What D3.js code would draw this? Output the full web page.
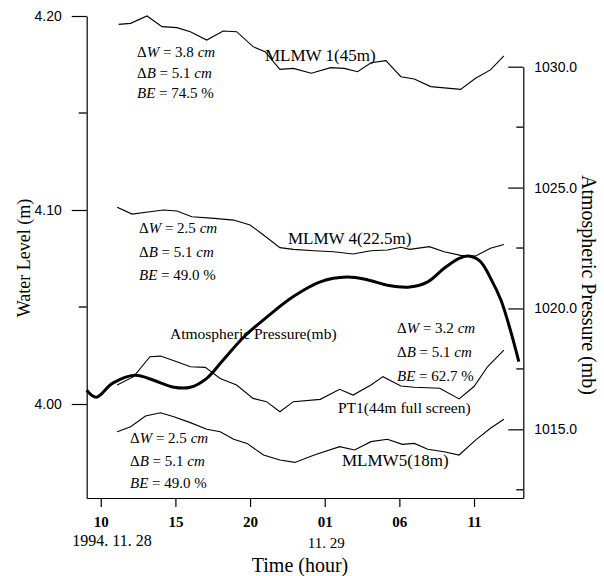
<!DOCTYPE html>
<html>
<head>
<meta charset="utf-8">
<script src="https://d3js.org/d3.v7.min.js"></script>
<style>
  body { margin: 0; background: #fff; }
  svg { display: block; }
  .serif { font-family: "Liberation Serif", "Times New Roman", serif; }
  .sans { font-family: "Liberation Sans", Arial, sans-serif; }
</style>
</head>
<body>
<div id="chart"></div>
<script>
  const width = 604, height = 576;

  // hours counted from 1994.11.28 00:00, levels in m, pressure in mb
  const mlmw1Hours = [11.2, 12.0, 13.1, 14.1, 15.1, 16.0, 17.1, 18.2, 19.1, 20.2, 21.0, 22.0, 22.9, 24.1, 25.4, 26.3, 27.2, 28.1, 29.1, 30.1, 31.0, 32.1, 34.1, 35.1, 36.1, 37.0];
  const mlmw1Level = [4.1957, 4.1962, 4.2000, 4.1945, 4.1940, 4.1919, 4.1876, 4.1923, 4.1919, 4.1842, 4.1816, 4.1725, 4.1730, 4.1705, 4.1734, 4.1730, 4.1713, 4.1759, 4.1770, 4.1687, 4.1675, 4.1636, 4.1622, 4.1679, 4.1722, 4.1794];

  const mlmw4Hours = [11.1, 12.1, 13.3, 14.2, 15.1, 16.1, 17.6, 18.9, 20.0, 20.9, 22.0, 22.9, 24.3, 25.6, 26.9, 28.1, 29.2, 30.1, 30.7, 32.0, 33.0, 34.1, 35.1, 36.1, 37.0];
  const mlmw4Level = [4.1014, 4.0979, 4.0991, 4.1000, 4.0995, 4.0965, 4.0957, 4.0948, 4.0923, 4.0871, 4.0806, 4.0797, 4.0790, 4.0785, 4.0773, 4.0790, 4.0794, 4.0808, 4.0797, 4.0811, 4.0785, 4.0766, 4.0763, 4.0803, 4.0822];

  const pt1Hours = [11.1, 12.2, 13.3, 14.0, 15.1, 16.0, 17.0, 18.0, 19.1, 20.2, 21.1, 22.0, 22.9, 24.7, 26.0, 26.9, 28.1, 28.9, 30.1, 31.0, 32.7, 34.0, 35.0, 35.9, 37.0];
  const pt1Level = [4.0098, 4.0141, 4.0244, 4.0247, 4.0218, 4.0192, 4.0189, 4.0132, 4.0098, 4.0029, 4.0012, 3.9960, 4.0012, 4.0024, 4.0076, 4.0046, 4.0098, 4.0141, 4.0093, 4.0086, 4.0081, 4.0026, 4.0090, 4.0192, 4.0278];

  const mlmw5Hours = [11.1, 12.0, 13.0, 14.0, 14.9, 16.0, 17.1, 18.0, 18.9, 19.8, 20.9, 22.0, 23.0, 24.3, 26.0, 27.0, 28.1, 29.2, 30.2, 31.0, 31.9, 33.0, 34.0, 35.1, 36.1, 37.0];
  const mlmw5Level = [3.9857, 3.9883, 3.9938, 3.9955, 3.9934, 3.9904, 3.9870, 3.9857, 3.9818, 3.9797, 3.9737, 3.9711, 3.9699, 3.9737, 3.9780, 3.9763, 3.9806, 3.9818, 3.9792, 3.9797, 3.9767, 3.9754, 3.9737, 3.9814, 3.9875, 3.9921];

  const pressHours = [9.06, 9.7, 10.8, 12.3, 13.5, 14.9, 16.0, 17.1, 18.2, 19.6, 21.1, 22.9, 24.7, 26.5, 27.9, 29.3, 30.7, 31.9, 33.0, 34.0, 34.6, 35.4, 36.2, 36.8, 37.3, 37.8, 38.0];
  const pressMb = [1016.62, 1016.33, 1016.91, 1017.24, 1017.04, 1016.74, 1016.74, 1017.11, 1017.87, 1018.83, 1019.63, 1020.49, 1021.10, 1021.30, 1021.18, 1020.95, 1020.89, 1021.10, 1021.66, 1022.07, 1022.17, 1021.96, 1021.14, 1020.35, 1019.39, 1018.28, 1017.80];

  // axis ticks
  const timeTicks = [10, 15, 20, 25, 30, 35];
  const timeLabels = ['10', '15', '20', '01', '06', '11'];
  const dateLabels = ['1994. 11. 28', '11. 29'];
  const levelTicks = [4.00, 4.10, 4.20];
  const levelMinor = [4.05, 4.15];
  const pressTicks = [1015, 1020, 1025, 1030];
  const pressMinor = [1012.5, 1017.5, 1022.5, 1027.5];

  // annotations
  const noteDW = ['3.8', '2.5', '3.2', '2.5'];
  const noteDB = ['5.1', '5.1', '5.1', '5.1'];
  const noteBE = ['74.5', '49.0', '62.7', '49.0'];
  const seriesNames = ['MLMW 1(45m)', 'MLMW 4(22.5m)', 'PT1(44m full screen)', 'MLMW5(18m)', 'Atmospheric Pressure(mb)'];

  const svg = d3.select('#chart')
    .append('svg')
    .attr('width', width)
    .attr('height', height);

  const x = d3.scaleLinear().domain([9.06, 38.3]).range([86.7, 523.3]);
  const yL = d3.scaleLinear().domain([3.95155, 4.20]).range([498, 16]);
  const yR = d3.scaleLinear().domain([1012.16, 1030]).range([498, 66.7]);

  // bottom axis
  const xAxis = svg.append('g')
    .attr('transform', `translate(0,${yL.range()[0]})`)
    .call(d3.axisBottom(x).tickValues(timeTicks).tickSizeInner(9).tickSizeOuter(0).tickPadding(9)
      .tickFormat((d, i) => timeLabels[i]));
  xAxis.selectAll('text').attr('class', 'serif').style('font-size', '15px').style('font-weight', 'bold');

  // left axis
  const leftG = svg.append('g').attr('transform', `translate(${x.range()[0]},0)`);
  leftG.call(d3.axisLeft(yL).tickValues(levelTicks).tickSizeInner(15).tickSizeOuter(0).tickPadding(10)
    .tickFormat(d3.format('.2f')));
  leftG.selectAll('text').attr('class', 'sans').style('font-size', '14px');
  leftG.selectAll('.minor').data(levelMinor).join('line')
    .attr('class', 'minor')
    .attr('x1', -8).attr('x2', 0)
    .attr('y1', d => yL(d)).attr('y2', d => yL(d))
    .attr('stroke', '#000').attr('stroke-width', 1.3);

  // right axis, ticks pointing inward
  const rightG = svg.append('g').attr('transform', `translate(${x.range()[1]},0)`);
  rightG.call(d3.axisRight(yR).tickValues(pressTicks).tickSizeInner(-15).tickSizeOuter(0).tickPadding(11)
    .tickFormat(d3.format('.1f')));
  rightG.selectAll('text').attr('class', 'sans').style('font-size', '14px');
  rightG.selectAll('.minor').data(pressMinor).join('line')
    .attr('class', 'minor')
    .attr('x1', -7).attr('x2', 0)
    .attr('y1', d => yR(d)).attr('y2', d => yR(d))
    .attr('stroke', '#000').attr('stroke-width', 1.3);

  svg.selectAll('.domain').attr('stroke', '#000').attr('stroke-width', 1.2);
  svg.selectAll('.tick line').attr('stroke', '#000').attr('stroke-width', 1.2);
  svg.selectAll('.tick text').attr('fill', '#000');

  // water level series
  const levelLine = d3.line().x(d => x(d[0])).y(d => yL(d[1]));
  const series = [
    [mlmw1Hours, mlmw1Level],
    [mlmw4Hours, mlmw4Level],
    [pt1Hours, pt1Level],
    [mlmw5Hours, mlmw5Level]
  ];
  svg.append('g').selectAll('path')
    .data(series.map(s => d3.zip(s[0], s[1])))
    .join('path')
    .attr('d', levelLine)
    .attr('fill', 'none')
    .attr('stroke', '#000')
    .attr('stroke-width', 1.1);

  // atmospheric pressure
  const pressLine = d3.line().x(d => x(d[0])).y(d => yR(d[1])).curve(d3.curveCatmullRom.alpha(0.5));
  svg.append('path')
    .datum(d3.zip(pressHours, pressMb))
    .attr('d', pressLine)
    .attr('fill', 'none')
    .attr('stroke', '#000')
    .attr('stroke-width', 3);

  // series labels
  const labelPos = [[265, 61, 17], [288, 244, 17], [338, 413, 15.5], [342, 466, 17], [170, 339, 15.5]];
  svg.append('g').selectAll('text')
    .data(seriesNames)
    .join('text')
    .attr('class', 'serif')
    .attr('x', (d, i) => labelPos[i][0])
    .attr('y', (d, i) => labelPos[i][1])
    .style('font-size', (d, i) => labelPos[i][2] + 'px')
    .text(d => d);

  // delta annotations
  const notePos = [[137, 57, 20.5], [139, 233, 23.5], [397, 333, 24], [130, 443, 22.5]];
  noteDW.forEach((dw, i) => {
    const [nx, ny, gap] = notePos[i];
    const g = svg.append('g').attr('class', 'serif').style('font-size', '15px');
    const t1 = g.append('text').attr('x', nx).attr('y', ny);
    t1.append('tspan').text('\u0394');
    t1.append('tspan').style('font-style', 'italic').text('W');
    t1.append('tspan').text(` = ${dw} `);
    t1.append('tspan').style('font-style', 'italic').text('cm');
    const t2 = g.append('text').attr('x', nx).attr('y', ny + gap);
    t2.append('tspan').text('\u0394');
    t2.append('tspan').style('font-style', 'italic').text('B');
    t2.append('tspan').text(` = ${noteDB[i]} `);
    t2.append('tspan').style('font-style', 'italic').text('cm');
    const t3 = g.append('text').attr('x', nx).attr('y', ny + 2 * gap);
    t3.append('tspan').style('font-style', 'italic').text('BE');
    t3.append('tspan').text(` = ${noteBE[i]} %`);
  });

  // axis titles
  svg.append('text')
    .attr('class', 'serif')
    .attr('transform', 'translate(30,258) rotate(-90)')
    .attr('text-anchor', 'middle')
    .style('font-size', '18px')
    .text('Water Level (m)');

  svg.append('text')
    .attr('class', 'serif')
    .attr('transform', 'translate(582,285) rotate(90)')
    .attr('text-anchor', 'middle')
    .style('font-size', '20px')
    .text('Atmospheric Pressure (mb)');

  svg.append('text')
    .attr('class', 'serif')
    .attr('x', 300).attr('y', 572)
    .attr('text-anchor', 'middle')
    .style('font-size', '20px')
    .text('Time (hour)');

  svg.append('text')
    .attr('class', 'serif')
    .attr('x', x(10.75)).attr('y', 546)
    .attr('text-anchor', 'middle')
    .style('font-size', '16px')
    .text(dateLabels[0]);

  svg.append('text')
    .attr('class', 'serif')
    .attr('x', x(25.1)).attr('y', 548)
    .attr('text-anchor', 'middle')
    .style('font-size', '15px')
    .text(dateLabels[1]);
</script>
</body>
</html>
